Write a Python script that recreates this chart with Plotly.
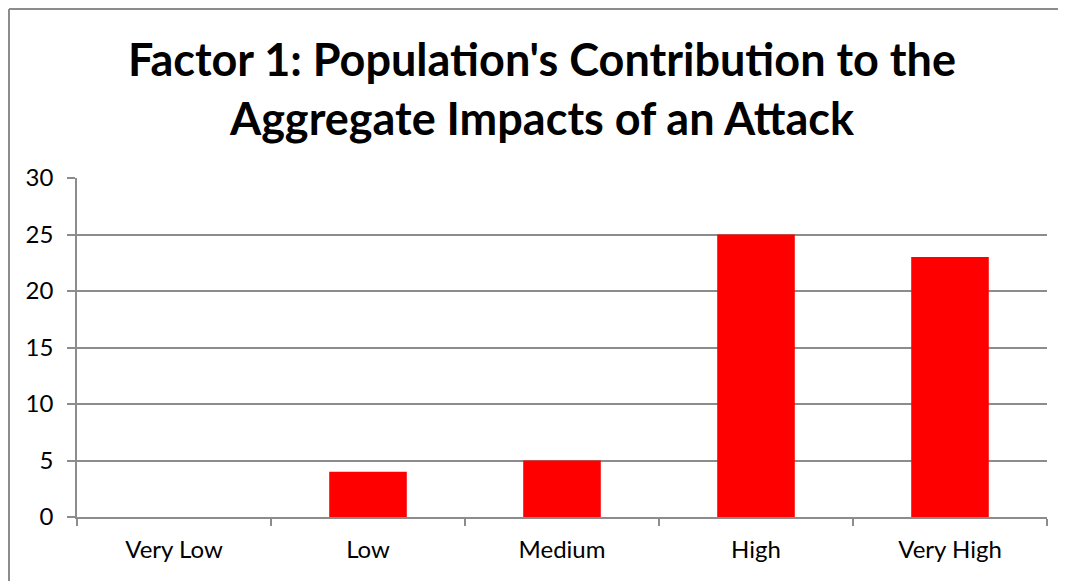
import plotly.graph_objects as go

categorias = ["Very Low", "Low", "Medium", "High", "Very High"]
valores = [0, 4, 5, 25, 23]
ticks_y = [0, 5, 10, 15, 20, 25, 30]

titulo = "Factor 1: Population's Contribution to the<br>Aggregate Impacts of an Attack"

gris = "#8c8c8c"

# la página tiene 8 px de margen en el body
W, H = 1058, 573
L, R, T, B = 69, 19, 170, 64
ancho = W - L - R
alto = H - T - B

fig = go.Figure(go.Bar(x=categorias, y=valores, marker=dict(color="#ff0000", line=dict(width=0))))

fig.update_layout(
    width=W, height=H,
    margin=dict(l=L, r=R, t=T, b=B),
    plot_bgcolor="white", paper_bgcolor="white",
    font=dict(family="Lato", size=24, color="black"),
    bargap=0.6,
    showlegend=False,
)

fig.update_xaxes(type="category", showline=True, linecolor=gris, linewidth=1.5,
                 ticks="outside", tickson="boundaries", ticklen=7, tickcolor=gris, tickwidth=1.5,
                 showgrid=False, tickfont=dict(size=24), ticklabelstandoff=10)
fig.update_yaxes(range=[0, 30], tickvals=ticks_y, showline=True, linecolor=gris, linewidth=1.5,
                 ticks="outside", ticklen=8, tickcolor=gris, tickwidth=1.5,
                 showgrid=True, gridcolor=gris, gridwidth=1.5, zeroline=False,
                 tickfont=dict(size=24), ticklabelstandoff=9)

# título en dos líneas, centrado sobre el gráfico
fig.add_annotation(text="<b>" + titulo + "</b>", xref="paper", yref="paper",
                   x=(534 - L) / ancho, y=(alto + T - 80.5) / alto,
                   xanchor="center", yanchor="middle",
                   showarrow=False, font=dict(size=45, color="black", family="Lato"))

# marco del gráfico
x0 = (1 - L) / ancho
y0 = (alto + T - 1) / alto
fig.add_shape(type="line", xref="paper", yref="paper", x0=x0, x1=1.2, y0=y0, y1=y0,
              line=dict(color=gris, width=2))
fig.add_shape(type="line", xref="paper", yref="paper", x0=x0, x1=x0, y0=y0, y1=-0.5,
              line=dict(color=gris, width=2))

fig.write_html("out.html")
